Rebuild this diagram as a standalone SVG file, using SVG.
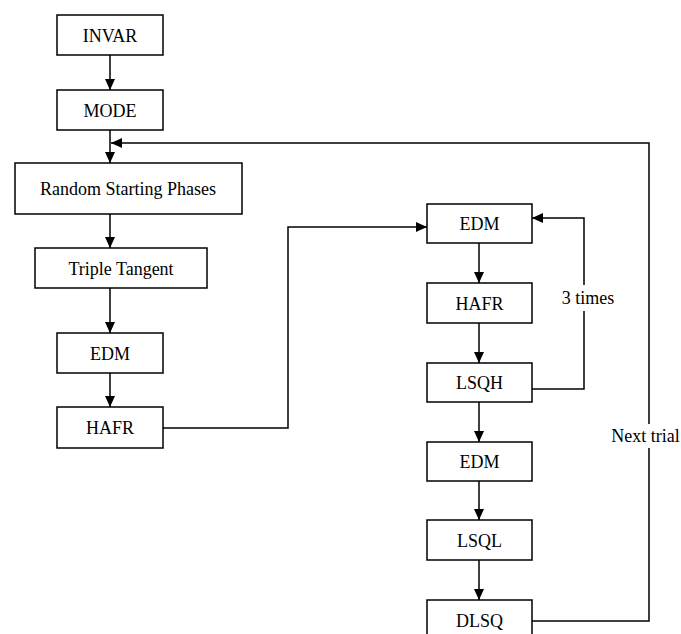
<svg xmlns="http://www.w3.org/2000/svg" width="681" height="634" viewBox="0 0 681 634">
<style>
.box{fill:#fff;stroke:#000;stroke-width:1.5}
.lbl{font-family:"Liberation Serif","Times New Roman",serif;font-size:18px;fill:#000;text-anchor:middle}
.ln{fill:none;stroke:#000;stroke-width:1.5}
</style>
<defs>
<marker id="ah" markerUnits="userSpaceOnUse" markerWidth="12" markerHeight="12" refX="11" refY="5" orient="auto">
<path d="M0,0 L11,5 L0,10 z" fill="#000"/>
</marker>
</defs>
<rect width="681" height="634" fill="#fff"/>
<g id="connectors">
<path class="ln" d="M110,55 V90" marker-end="url(#ah)"/>
<path class="ln" d="M110,130 V163" marker-end="url(#ah)"/>
<path class="ln" d="M110,214 V248" marker-end="url(#ah)"/>
<path class="ln" d="M110,288 V333" marker-end="url(#ah)"/>
<path class="ln" d="M110,373 V407" marker-end="url(#ah)"/>
<path class="ln" d="M163,428 H288 V227 H427" marker-end="url(#ah)"/>
<path class="ln" d="M479,243 V283" marker-end="url(#ah)"/>
<path class="ln" d="M479,323 V363" marker-end="url(#ah)"/>
<path class="ln" d="M479,402 V442" marker-end="url(#ah)"/>
<path class="ln" d="M479,481 V520" marker-end="url(#ah)"/>
<path class="ln" d="M479,560 V600" marker-end="url(#ah)"/>
<path class="ln" d="M532,389 H584 V218 H532" marker-end="url(#ah)"/>
<path class="ln" d="M532,621 H649 V143 H111" marker-end="url(#ah)"/>
<rect x="560" y="285" width="56" height="26" fill="#fff"/>
<text class="lbl" x="588" y="304">3 times</text>
<rect x="609" y="424" width="72" height="24" fill="#fff"/>
<text class="lbl" x="645.5" y="442">Next trial</text>
</g>
<g id="invar"><rect class="box" x="57" y="15" width="106" height="40"/><text class="lbl" x="110" y="41.5">INVAR</text></g>
<g id="mode"><rect class="box" x="57" y="90" width="106" height="40"/><text class="lbl" x="110" y="116.5">MODE</text></g>
<g id="rsp"><rect class="box" x="15" y="163" width="227" height="51"/><text class="lbl" x="128" y="195">Random Starting Phases</text></g>
<g id="triple"><rect class="box" x="35" y="248" width="172" height="40"/><text class="lbl" x="121" y="274.5">Triple Tangent</text></g>
<g id="edm1"><rect class="box" x="57" y="333" width="106" height="40"/><text class="lbl" x="110" y="359.5">EDM</text></g>
<g id="hafr1"><rect class="box" x="57" y="407" width="106" height="41"/><text class="lbl" x="110" y="434">HAFR</text></g>
<g id="edm2"><rect class="box" x="427" y="204" width="105" height="39"/><text class="lbl" x="479.5" y="230">EDM</text></g>
<g id="hafr2"><rect class="box" x="427" y="283" width="105" height="40"/><text class="lbl" x="479.5" y="309.5">HAFR</text></g>
<g id="lsqh"><rect class="box" x="427" y="363" width="105" height="39"/><text class="lbl" x="479.5" y="389">LSQH</text></g>
<g id="edm3"><rect class="box" x="427" y="442" width="105" height="39"/><text class="lbl" x="479.5" y="468">EDM</text></g>
<g id="lsql"><rect class="box" x="427" y="520" width="105" height="40"/><text class="lbl" x="479.5" y="546.5">LSQL</text></g>
<g id="dlsq"><rect class="box" x="427" y="600" width="105" height="40"/><text class="lbl" x="479.5" y="626.5">DLSQ</text></g>
</svg>
